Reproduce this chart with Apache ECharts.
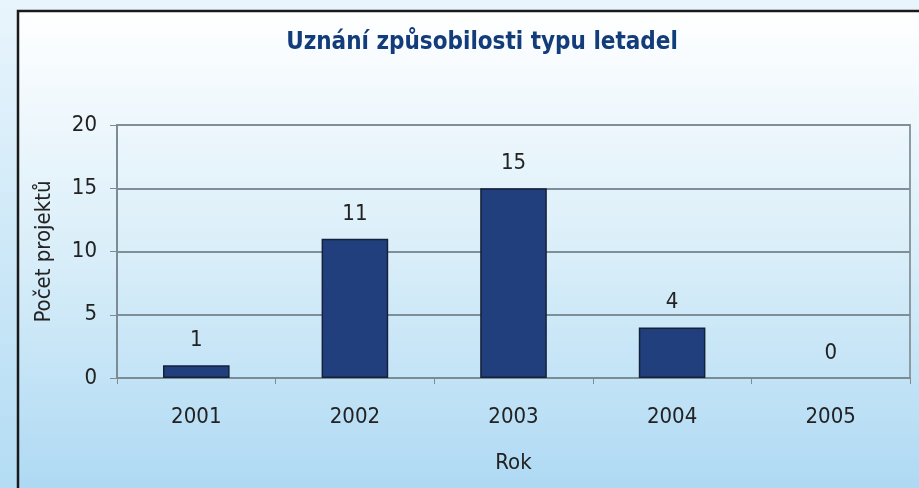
<!DOCTYPE html>
<html><head><meta charset="utf-8">
<script src="https://cdn.jsdelivr.net/npm/echarts@6/dist/echarts.min.js"></script>
<style>html,body{margin:0;padding:0;background:#e6f3fc;}#c{width:919px;height:488px;}</style>
</head><body><div id="c"></div>
<script>
const categories = ['2001','2002','2003','2004','2005'];
const values = [1, 11, 15, 4, 0];
const yTicks = [0, 5, 10, 15, 20];
const titleText = 'Uznání způsobilosti typu letadel';
const yName = 'Počet projektů';
const xName = 'Rok';

const F = '"Liberation Sans Narrow","DejaVu Sans Condensed",sans-serif';
const chart = echarts.init(document.getElementById('c'));
chart.setOption({
  backgroundColor: {type:'linear',x:0,y:0,x2:0,y2:1,colorStops:[{offset:0,color:'#e9f5fc'},{offset:1,color:'#b3dcf4'}]},
  graphic: [
    {type:'rect', z:-10, shape:{x:18,y:11,width:920,height:490},
     style:{fill:{type:'linear',x:0,y:0,x2:0,y2:1,colorStops:[{offset:0,color:'#ffffff'},{offset:0.5,color:'#d9eef9'},{offset:1,color:'#acd8f3'}]},stroke:'#1a1a1a',lineWidth:2.5}}
  ],
  title: {text: titleText, left: 477, textAlign:'center', top: 26,
    textStyle:{fontFamily:F, fontWeight:'bold', fontSize:24, color:'#123c7a'}},
  grid: {left:117, right:9, top:125, bottom:110, show:true, borderColor:'#8c9aa3', borderWidth:2, backgroundColor:'transparent'},
  xAxis: {type:'category', data: categories, name: xName, nameLocation:'middle', nameGap:74,
    nameTextStyle:{fontFamily:F, fontSize:22, color:'#222'},
    axisLine:{lineStyle:{color:'#7c8b94', width:2}},
    axisTick:{show:true, alignWithLabel:false, length:6, lineStyle:{color:'#7c8b94'}},
    axisLabel:{fontFamily:F, fontSize:22, color:'#222', margin:28}},
  yAxis: {type:'value', min:0, max:20, interval:5, name: yName, nameLocation:'middle', nameGap:62,
    nameTextStyle:{fontFamily:F, fontSize:22, color:'#222'},
    axisLine:{show:true, lineStyle:{color:'#7c8b94', width:2}},
    axisTick:{show:true, length:7, lineStyle:{color:'#7c8b94'}},
    splitLine:{lineStyle:{color:'#7f8f98', width:2}},
    axisLabel:{fontFamily:F, fontSize:22, color:'#222', margin:20,
      formatter: v => yTicks.includes(v) ? String(v) : ''}},
  series: [{type:'bar', barWidth:'42%',
    data: values.map(v => v === 0 ? {value:v, itemStyle:{borderWidth:0}} : v),
    itemStyle:{color:'#223f7d', borderColor:'#15213a', borderWidth:1.5},
    label:{show:true, position:'top', distance:14, fontFamily:F, fontSize:22, color:'#222'}}]
});
</script></body></html>
